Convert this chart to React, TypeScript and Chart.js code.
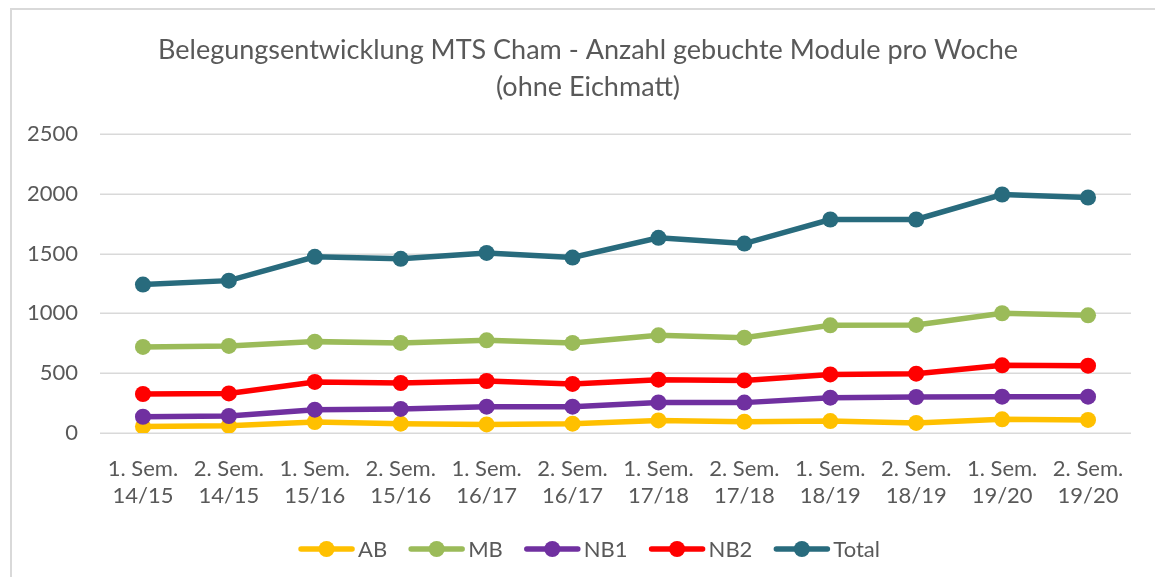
import React, { useEffect, useRef } from 'react';
import { Chart, registerables } from 'chart.js';

Chart.register(...registerables);

const categories: string[][] = [
  ['1. Sem.', '14/15'], ['2. Sem.', '14/15'],
  ['1. Sem.', '15/16'], ['2. Sem.', '15/16'],
  ['1. Sem.', '16/17'], ['2. Sem.', '16/17'],
  ['1. Sem.', '17/18'], ['2. Sem.', '17/18'],
  ['1. Sem.', '18/19'], ['2. Sem.', '18/19'],
  ['1. Sem.', '19/20'], ['2. Sem.', '19/20'],
];

const seriesNames = ['AB', 'MB', 'NB1', 'NB2', 'Total'];
const abValues = [55, 61, 92, 78, 72, 78, 105, 95, 100, 84, 114, 109];
const mbValues = [720, 728, 764, 753, 775, 753, 817, 797, 900, 904, 1001, 984];
const nb1Values = [136, 142, 195, 201, 220, 220, 256, 254, 295, 301, 304, 304];
const nb2Values = [326, 331, 427, 418, 435, 410, 446, 440, 490, 496, 566, 563];
const totalValues = [1241, 1274, 1473, 1456, 1506, 1467, 1632, 1584, 1785, 1785, 1994, 1969];
const seriesColors = ['#FFC000', '#9BBB59', '#7030A0', '#FF0000', '#286B7D'];

const titleLines = ['Belegungsentwicklung MTS Cham - Anzahl gebuchte Module pro Woche', '(ohne Eichmatt)'];
const yTickMin = 0;
const yTickMax = 2500;
const yTickStep = 500;

const FONT = 'Lato, "Open Sans", sans-serif';
const TEXT_COLOR = '#595959';

export default function App() {
  const canvasRef = useRef<HTMLCanvasElement | null>(null);

  useEffect(() => {
    document.body.style.margin = '0';
    const canvas = canvasRef.current;
    if (!canvas) return;

    const values = [abValues, mbValues, nb1Values, nb2Values, totalValues];

    const framePlugin = {
      id: 'frame',
      beforeDraw(chart: any) {
        const ctx = chart.ctx;
        ctx.save();
        ctx.fillStyle = '#ffffff';
        ctx.fillRect(0, 0, chart.width, chart.height);
        ctx.strokeStyle = '#d9d9d9';
        ctx.lineWidth = 2;
        ctx.beginPath();
        ctx.moveTo(11, chart.height);
        ctx.lineTo(11, 9);
        ctx.lineTo(chart.width, 9);
        ctx.stroke();
        ctx.restore();
      },
      beforeDatasetsDraw(chart: any) {
        const ctx = chart.ctx;
        const area = chart.chartArea;
        const yScale = chart.scales.y;
        ctx.save();
        ctx.strokeStyle = '#d9d9d9';
        ctx.lineWidth = 1.5;
        yScale.ticks.forEach((t: any) => {
          const py = Math.round(yScale.getPixelForValue(t.value)) + 0.25;
          ctx.beginPath();
          ctx.moveTo(area.left, py);
          ctx.lineTo(area.right, py);
          ctx.stroke();
        });
        ctx.restore();
      },
      afterDraw(chart: any) {
        const ctx = chart.ctx;
        ctx.save();
        // title
        ctx.fillStyle = TEXT_COLOR;
        ctx.textAlign = 'center';
        ctx.textBaseline = 'middle';
        ctx.font = `27px ${FONT}`;
        ctx.fillText(titleLines[0], 588, 50);
        ctx.fillText(titleLines[1], 588, 87);
        // legend
        ctx.font = `22px ${FONT}`;
        const lineLen = 57;
        const gapText = 3;
        const gapItem = 21;
        const widths = seriesNames.map((n) => lineLen + gapText + ctx.measureText(n).width);
        const total = widths.reduce((a, b) => a + b, 0) + gapItem * (seriesNames.length - 1);
        let x = 589 - total / 2;
        const y = 549;
        chart.data.datasets.forEach((ds: any, i: number) => {
          ctx.strokeStyle = ds.borderColor;
          ctx.lineWidth = 5.5;
          ctx.lineCap = 'round';
          ctx.beginPath();
          ctx.moveTo(x + 3, y);
          ctx.lineTo(x + lineLen - 3, y);
          ctx.stroke();
          ctx.fillStyle = ds.borderColor;
          ctx.beginPath();
          ctx.arc(x + lineLen / 2, y, 8, 0, Math.PI * 2);
          ctx.fill();
          ctx.fillStyle = TEXT_COLOR;
          ctx.textAlign = 'left';
          ctx.fillText(ds.label, x + lineLen + gapText, y + 1);
          x += widths[i] + gapItem;
        });
        ctx.restore();
      },
    };

    const chart = new Chart(canvas, {
      type: 'line',
      data: {
        labels: categories,
        datasets: seriesNames.map((name, i) => ({
          label: name,
          data: values[i],
          borderColor: seriesColors[i],
          backgroundColor: seriesColors[i],
          pointBackgroundColor: seriesColors[i],
          pointBorderColor: seriesColors[i],
          borderWidth: 5.5,
          pointRadius: 8,
          pointBorderWidth: 0,
          tension: 0,
          order: seriesNames.length - i,
        })),
      },
      options: {
        animation: false,
        responsive: false,
        layout: { padding: { left: 20, right: 24, top: 134, bottom: 0 } },
        plugins: {
          legend: { display: false },
          title: { display: false },
          tooltip: { enabled: false },
        },
        scales: {
          x: {
            offset: true,
            grid: { display: false },
            border: { display: false },
            ticks: {
              color: TEXT_COLOR,
              font: { family: FONT, size: 22, lineHeight: 27 / 22 },
              padding: 14,
              maxRotation: 0,
              autoSkip: false,
            },
            afterFit(scale: any) {
              scale.height = 577 - 433;
            },
          },
          y: {
            min: yTickMin,
            max: yTickMax,
            grid: { display: false },
            border: { display: false },
            ticks: {
              stepSize: yTickStep,
              color: TEXT_COLOR,
              font: { family: FONT, size: 22 },
              padding: 14,
              callback: (v: any) => String(v),
            },
            afterFit(scale: any) {
              scale.width = 80;
            },
          },
        },
      },
      plugins: [framePlugin],
    });

    return () => chart.destroy();
  }, []);

  return (
    <div style={{ width: 1155, height: 577, position: 'relative' }}>
      <canvas ref={canvasRef} width={1155} height={577} style={{ display: 'block' }} />
    </div>
  );
}
